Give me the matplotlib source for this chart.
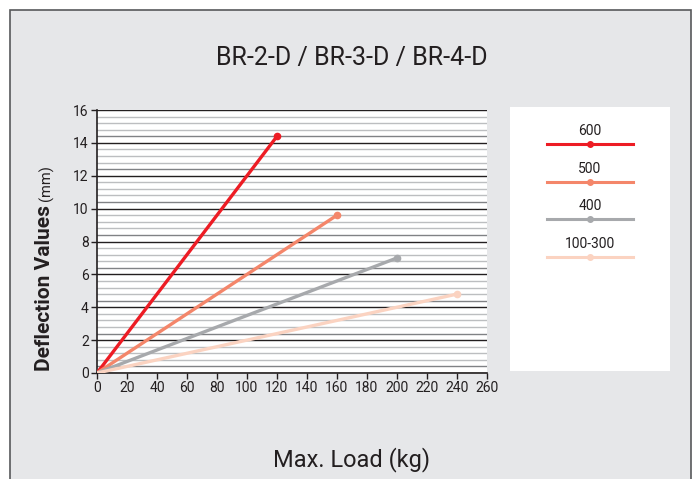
import matplotlib
matplotlib.use("Agg")
import matplotlib.pyplot as plt
from matplotlib.patches import Rectangle

plt.rcParams['font.family'] = ['Roboto', 'DejaVu Sans']

# data
series_names = ['600', '500', '400', '100-300']
max_load = [120, 160, 200, 240]          # kg at end of each line
deflection = [14.4, 9.6, 7.0, 4.8]       # mm at end of each line
colors = ['#ed1c24', '#f4866a', '#a7a9ac', '#fbd3c1']

x_ticks = list(range(0, 261, 20))
y_ticks = list(range(0, 17, 2))

W, H = 694, 479
fig = plt.figure(figsize=(W / 100, H / 100), dpi=100)
fig.patch.set_facecolor('white')

# gray panel with border
panel = Rectangle((10 / W, -0.05), 681 / W, 1.05 - 10 / H, transform=fig.transFigure,
                  facecolor='#e6e7e9', edgecolor='#58595b', linewidth=1.2, zorder=-5)
fig.patches.append(panel)

ax = fig.add_axes([97 / W, 1 - 373 / H, 390 / W, 263 / H])
ax.set_facecolor('white')
ax.set_xlim(0, 260)
ax.set_ylim(0, 16)

# horizontal grid: minor every 0.4, major every 2
for i in range(41):
    yv = i * 0.4
    if i % 5 == 0:
        ax.axhline(yv, color='#231f20', lw=1.0, zorder=1)
    elif i % 5 == 1:
        ax.axhline(yv, color='#808285', lw=1.0, zorder=1)
    else:
        ax.axhline(yv, color='#bcbec0', lw=1.0, zorder=1)

for name, xe, ye, c in zip(series_names, max_load, deflection, colors):
    ax.plot([0, xe], [0, ye], color=c, lw=2.4, solid_capstyle='round', zorder=3)
    ax.plot([xe], [ye], 'o', color=c, ms=4.5, zorder=4)

for s in ['top', 'right']:
    ax.spines[s].set_visible(False)
for s in ['left', 'bottom']:
    ax.spines[s].set_color('#231f20')
    ax.spines[s].set_linewidth(1.2)

ax.set_xticks(x_ticks)
ax.set_yticks(y_ticks)
ax.tick_params(axis='both', direction='out', length=4, width=1, color='#231f20',
               labelsize=10, labelcolor='#231f20', pad=2)

fig.text(352 / W, 1 - 58 / H, 'BR-2-D / BR-3-D / BR-4-D', ha='center', va='center',
         fontsize=18, color='#231f20')
fig.text(352 / W, 1 - 460 / H, 'Max. Load (kg)', ha='center', va='center',
         fontsize=17, color='#231f20')

ylab = fig.text(45 / W, 1 - 371 / H, 'Deflection Values', rotation=90, ha='center', va='bottom',
                fontsize=15, fontweight='bold', color='#231f20')
fig.canvas.draw()
bb = ylab.get_window_extent().transformed(fig.transFigure.inverted())
fig.text(46 / W, bb.y1 + 4 / H, '(mm)', rotation=90, ha='center', va='bottom',
         fontsize=10.5, color='#231f20')

# legend box
lax = fig.add_axes([510 / W, 1 - 371 / H, 160 / W, 264 / H])
lax.set_xlim(0, 160)
lax.set_ylim(264, 0)
lax.axis('off')
lax.add_patch(Rectangle((0, 0), 160, 264, facecolor='white', edgecolor='none', zorder=0))
for i, (name, c) in enumerate(zip(series_names, colors)):
    y_line = 37 + i * 37.7
    lax.plot([37, 123], [y_line, y_line], color=c, lw=2.2)
    lax.plot([80], [y_line], 'o', color=c, ms=4)
    lax.text(80, y_line - 6, name, ha='center', va='bottom', fontsize=10, color='#231f20')

fig.savefig('out.png', dpi=100)
